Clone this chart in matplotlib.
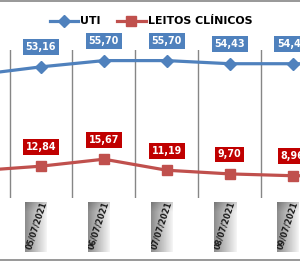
import matplotlib
matplotlib.use("Agg")
import matplotlib.pyplot as plt
import numpy as np

# data (04/07 and 10/07 only show as line stubs at the edges)
dates = ["04/07/2021", "05/07/2021", "06/07/2021", "07/07/2021",
         "08/07/2021", "09/07/2021", "10/07/2021"]
uti = [50.0, 53.16, 55.70, 55.70, 54.43, 54.43, 54.4]
leitos = [11.0, 12.84, 15.67, 11.19, 9.70, 8.96, 8.9]
uti_labels = ["", "53,16", "55,70", "55,70", "54,43", "54,43", ""]
leitos_labels = ["", "12,84", "15,67", "11,19", "9,70", "8,96", ""]

BLUE = "#4F81BD"
RED = "#C0504D"
RED_BOX = "#C00000"
GRID = "#868686"

W, H = 300, 261
fig = plt.figure(figsize=(W / 100, H / 100), dpi=100)
ax = fig.add_axes([0, 1 - 197.8 / H, 1, 147.8 / H])

x = np.arange(len(dates))
ax.plot(x, uti, color=BLUE, lw=2.3, marker="D", ms=6, label="UTI", zorder=3)
ax.plot(x, leitos, color=RED, lw=2.3, marker="s", ms=7.5, mec=RED,
        label="LEITOS CLÍNICOS", zorder=3)

ax.set_xlim(1 - 41 / 62.9, 1 + 259 / 62.9)
ax.set_ylim(0, 60)
for s in ax.spines.values():
    s.set_visible(False)
ax.set_xticks([])
ax.set_yticks([])

# category separators
for b in x[:-1] + 0.5:
    ax.plot([b, b], [0, 60], color=GRID, lw=1, zorder=1)

for i in x:
    if uti_labels[i]:
        ax.annotate(uti_labels[i], (i, uti[i]), xytext=(0, 19.5),
                    textcoords="offset pixels", ha="center", va="center",
                    color="white", fontsize=6.9, fontweight="bold",
                    bbox=dict(boxstyle="square,pad=0.3", fc=BLUE, ec="none"),
                    zorder=4)
    if leitos_labels[i]:
        ax.annotate(leitos_labels[i], (i, leitos[i]), xytext=(0, 19.5),
                    textcoords="offset pixels", ha="center", va="center",
                    color="white", fontsize=6.9, fontweight="bold",
                    bbox=dict(boxstyle="square,pad=0.3", fc=RED_BOX, ec="none"),
                    zorder=4)

# rotated date labels on a grey gradient box
grad = np.tile(np.linspace(0.55, 0.96, 32), (48, 1))
grad[:10] *= np.linspace(0.85, 1, 10)[:, None]
for i in x[1:6]:
    px, _ = ax.transData.transform((i, 0))
    cx, cy = px - 5, 227
    bx = fig.add_axes([(cx - 11) / W, 1 - (cy + 25) / H, 22 / W, 50 / H])
    bx.imshow(grad, cmap="gray", vmin=0, vmax=1, aspect="auto")
    bx.axis("off")
    bx.text(0.5, 0.53, dates[i], rotation=72, ha="center", va="center",
            fontsize=5.8, fontweight="bold", color="#1a1a1a",
            transform=bx.transAxes, clip_on=True)

leg = fig.legend(loc="center", bbox_to_anchor=(151 / W, 1 - 21.5 / H),
                 ncol=2, frameon=False, handlelength=2.6, columnspacing=1.5,
                 handletextpad=0.2, prop=dict(weight="bold", size=7.9))

# frame lines
fig.add_artist(plt.Line2D([0, 1], [1 - 1 / H, 1 - 1 / H], color=GRID, lw=1.2))
fig.add_artist(plt.Line2D([0, 1], [1 - 260 / H, 1 - 260 / H], color=GRID, lw=1.2))

fig.savefig("out.png", dpi=100)
